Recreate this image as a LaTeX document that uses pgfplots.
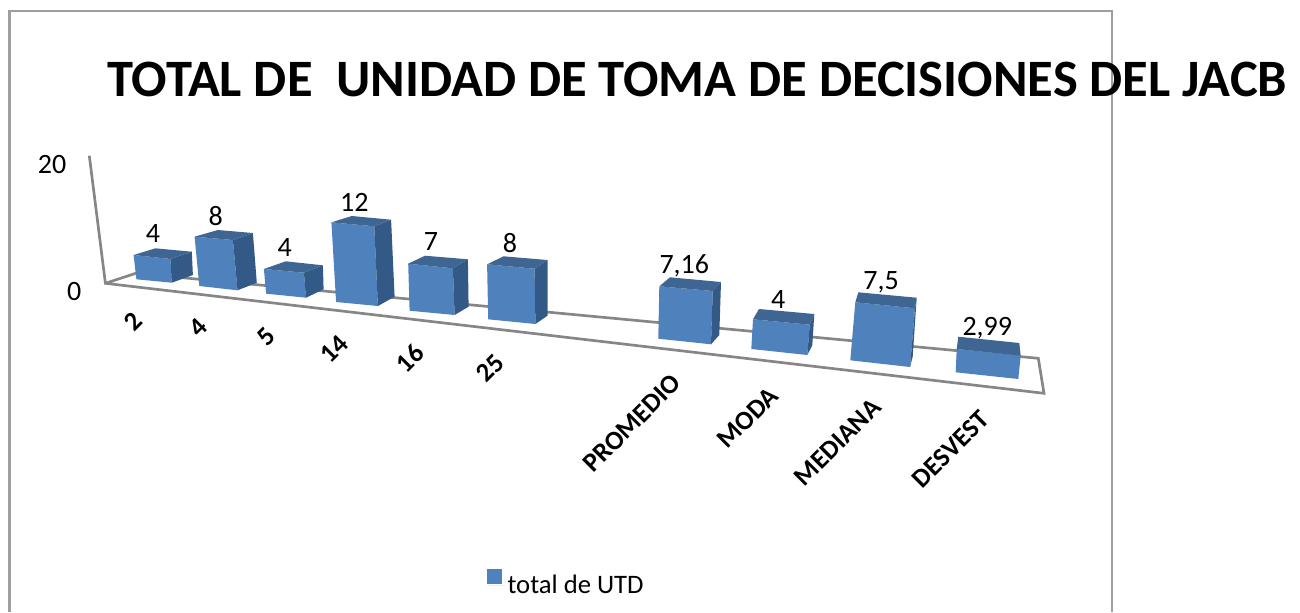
\documentclass[border=0pt]{standalone}
\usepackage{fontspec}
\setmainfont{Carlito}
\usepackage{pgfplots}
\pgfplotsset{compat=1.18}
\definecolor{front}{HTML}{4F81BD}
\definecolor{side}{HTML}{335A87}
\definecolor{topc}{HTML}{3F6593}
\definecolor{axl}{HTML}{868686}
\definecolor{frm}{HTML}{9E9E9E}
\tikzset{
  fz/.style={font=\fontsize{21}{25}\selectfont,inner sep=0pt},
  cat/.style={font=\fontsize{20}{24}\selectfont\bfseries,inner sep=0pt,rotate=45},
}
\pgfplotsset{
  fr/.style={fill=front,draw=none,forget plot,mark=none},
  sd/.style={fill=side,draw=none,forget plot,mark=none},
  tp/.style={fill=topc,draw=none,forget plot,mark=none},
  ln/.style={draw=axl,line width=2pt,forget plot,mark=none},
}
\begin{document}
\begin{tikzpicture}
\begin{axis}[
  width=975pt,height=459pt,scale only axis,
  xmin=0,xmax=1300,ymin=0,ymax=612,y dir=reverse,
  axis line style={draw=none},ticks=none,clip=true,
  legend style={at={(0.3745,0.023)},anchor=south west,draw=none,fill=none,
    font=\fontsize{20}{24}\selectfont,inner sep=0pt,outer sep=0pt},
  area legend,
  legend image code/.code={\fill[front] (0pt,0.75pt) rectangle (11.25pt,11.75pt);\path (0pt,0pt) -- (13.5pt,0pt);},
]
% chart frame
\addplot[draw=frm,line width=2pt,forget plot,mark=none] coordinates {(9.5,612)(9.5,11)(1112,11)(1112,612)};
% axes and floor
\addplot[ln] coordinates {(89.3,155.7)(105.4,283.3)(1044,393.3)(1038.3,358.3)(135.7,273.3)(105.4,283.3)};
% bar 1: 4
\addplot[fill=front,draw=none,mark=none] coordinates {(133.6,255)(170.4,259)(171.8,282.7)(136.4,279.3)(133.6,255)};
\addlegendentry{total de UTD}
\addplot[sd] coordinates {(170.4,259)(191.8,251.7)(192.9,275)(171.8,282.7)(170.4,259)};
\addplot[tp] coordinates {(133.6,255)(155.4,248.3)(191.8,251.7)(170.4,259)(133.6,255)};
% bar 2: 8
\addplot[fr] coordinates {(194.6,236.7)(232.9,240)(237.5,290.3)(199.3,286)(194.6,236.7)};
\addplot[sd] coordinates {(232.9,240)(252.9,233)(256.8,282.7)(237.5,290.3)(232.9,240)};
\addplot[tp] coordinates {(194.6,236.7)(217.9,230)(252.9,233)(232.9,240)(194.6,236.7)};
% bar 3: 4
\addplot[fr] coordinates {(263.9,269)(303.9,272.7)(306.1,297.7)(266.1,293.7)(263.9,269)};
\addplot[sd] coordinates {(303.9,272.7)(322.9,265.3)(323.6,289.3)(306.1,297.7)(303.9,272.7)};
\addplot[tp] coordinates {(263.9,269)(285.7,261.3)(322.9,265.3)(303.9,272.7)(263.9,269)};
% bar 4: 12
\addplot[fr] coordinates {(331.4,222.3)(374.3,226.3)(377.9,306)(336.1,302)(331.4,222.3)};
\addplot[sd] coordinates {(374.3,226.3)(391.1,219.7)(394.6,296.7)(377.9,306)(374.3,226.3)};
\addplot[tp] coordinates {(331.4,222.3)(351.8,216)(391.1,219.7)(374.3,226.3)(331.4,222.3)};
% bar 5: 7
\addplot[fr] coordinates {(408.2,263.7)(452.9,268.3)(454.6,315)(409.6,310.7)(408.2,263.7)};
\addplot[sd] coordinates {(452.9,268.3)(467.9,259.3)(468.6,306.7)(454.6,315)(452.9,268.3)};
\addplot[tp] coordinates {(408.2,263.7)(425,255.7)(467.9,259.3)(452.9,268.3)(408.2,263.7)};
% bar 6: 8
\addplot[fr] coordinates {(487.1,264.3)(534.6,268.7)(535.4,324)(488.2,319.3)(487.1,264.3)};
\addplot[sd] coordinates {(534.6,268.7)(547.5,260)(547.5,315.7)(535.4,324)(534.6,268.7)};
\addplot[tp] coordinates {(487.1,264.3)(503.6,256.3)(547.5,260)(534.6,268.7)(487.1,264.3)};
% bar 7: 7,16
\addplot[fr] coordinates {(659.3,286.3)(712.7,291)(711,344.3)(658.3,338.7)(659.3,286.3)};
\addplot[sd] coordinates {(712.7,291)(721,282)(719.3,335)(711,344.3)(712.7,291)};
\addplot[tp] coordinates {(659.3,286.3)(670,277.3)(721,282)(712.7,291)(659.3,286.3)};
% bar 8: 4
\addplot[fr] coordinates {(753,319.3)(809.7,324.7)(807.3,355)(751.3,349)(753,319.3)};
\addplot[sd] coordinates {(809.7,324.7)(814.3,314)(812.3,345.3)(807.3,355)(809.7,324.7)};
\addplot[tp] coordinates {(753,319.3)(759,309)(814.3,314)(809.7,324.7)(753,319.3)};
% bar 9: 7,5
\addplot[fr] coordinates {(855.3,302.3)(915,308.3)(910,367)(850.3,360.3)(855.3,302.3)};
\addplot[sd] coordinates {(915,308.3)(916.7,297.7)(912.7,356.7)(910,367)(915,308.3)};
\addplot[tp] coordinates {(855.3,302.3)(858.3,292.3)(916.7,297.7)(915,308.3)(855.3,302.3)};
% bar 10: 2,99
\addplot[fr] coordinates {(956.7,349)(1020.7,355.7)(1018.3,379)(955.7,372.3)(956.7,349)};
\addplot[tp] coordinates {(956.7,349)(958.3,336.7)(1019.3,343)(1020.7,355.7)(956.7,349)};
% title
\node[anchor=base west,inner sep=0pt,font=\fontsize{39.4}{45}\selectfont\bfseries] at (axis cs:107,96) {TOTAL DE\ \ UNIDAD DE TOMA DE DECISIONES DEL JACB};
% value axis labels
\node[fz] at (axis cs:52,165) {20};
\node[fz] at (axis cs:74.3,291.7) {0};
% data labels
\node[fz] at (axis cs:152.9,234) {4};
\node[fz] at (axis cs:215.7,216) {8};
\node[fz] at (axis cs:284.6,248) {4};
\node[fz] at (axis cs:354.3,202) {12};
\node[fz] at (axis cs:431,241.7) {7};
\node[fz] at (axis cs:510,243.3) {8};
\node[fz] at (axis cs:684.3,265.7) {7,16};
\node[fz] at (axis cs:778.3,299.3) {4};
\node[fz] at (axis cs:881,282.7) {7,5};
\node[fz] at (axis cs:987.3,328.3) {2,99};
% category labels
\node[cat] at (axis cs:133,321.7) {2};
\node[cat] at (axis cs:198.6,327.7) {4};
\node[cat] at (axis cs:266.4,336.7) {5};
\node[cat] at (axis cs:334.3,349.3) {14};
\node[cat] at (axis cs:410,358.3) {16};
\node[cat] at (axis cs:490.4,368.3) {25};
\node[cat] at (axis cs:631.7,423.3) {PROMEDIO};
\node[cat] at (axis cs:747.7,417.7) {MODA};
\node[cat] at (axis cs:837.7,442.3) {MEDIANA};
\node[cat] at (axis cs:950.7,449) {DESVEST};
\end{axis}
\end{tikzpicture}
\end{document}
